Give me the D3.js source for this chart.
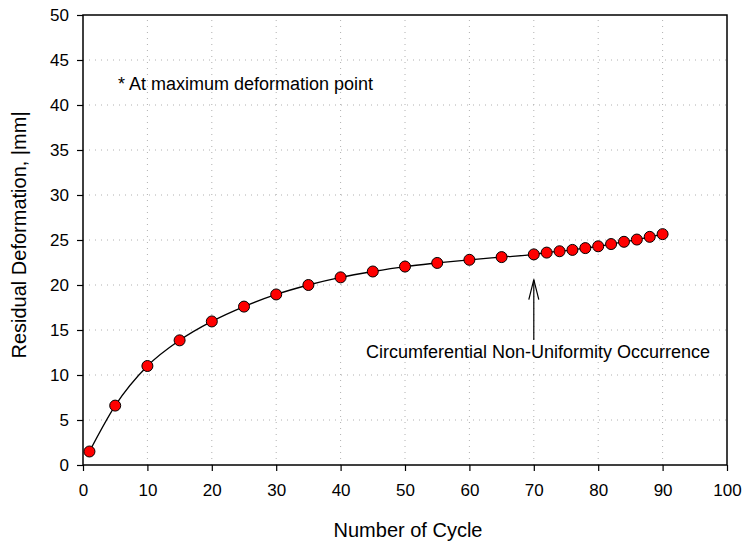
<!DOCTYPE html>
<html>
<head>
<meta charset="utf-8">
<script src="https://cdn.jsdelivr.net/npm/d3@7"></script>
<style>
  body { margin: 0; background: #fff; }
  text { font-family: "Liberation Sans", Arial, sans-serif; fill: #000; }
</style>
</head>
<body>
<script>
// data
var cycles = [1, 5, 10, 15, 20, 25, 30, 35, 40, 45, 50, 55, 60, 65,
              70, 72, 74, 76, 78, 80, 82, 84, 86, 88, 90];
var deformation = [1.5, 6.6, 11.0, 13.85, 15.95, 17.6, 18.95, 20.0, 20.85, 21.5, 22.05, 22.45, 22.8, 23.1,
                   23.4, 23.6, 23.75, 23.9, 24.1, 24.3, 24.55, 24.8, 25.05, 25.35, 25.65];
var xTicks = [0, 10, 20, 30, 40, 50, 60, 70, 80, 90, 100];
var yTicks = [0, 5, 10, 15, 20, 25, 30, 35, 40, 45, 50];

var width = 746, height = 546;
var margin = {left: 83, right: 19, top: 15, bottom: 81};

var svg = d3.select("body").append("svg")
    .attr("width", width)
    .attr("height", height);

var x = d3.scaleLinear().domain([0, 100]).range([margin.left, width - margin.right]);
var y = d3.scaleLinear().domain([0, 50]).range([height - margin.bottom, margin.top]);

// dotted grid
svg.append("g").selectAll("line.gx")
    .data(xTicks.slice(1, -1))
    .enter().append("line")
    .attr("x1", function (d) { return x(d); })
    .attr("x2", function (d) { return x(d); })
    .attr("y1", y(0)).attr("y2", y(50))
    .attr("stroke", "#b0b0b0").attr("stroke-width", 1)
    .attr("stroke-dasharray", "1,5");

svg.append("g").selectAll("line.gy")
    .data(yTicks.slice(1, -1))
    .enter().append("line")
    .attr("y1", function (d) { return y(d); })
    .attr("y2", function (d) { return y(d); })
    .attr("x1", x(0)).attr("x2", x(100))
    .attr("stroke", "#b0b0b0").attr("stroke-width", 1)
    .attr("stroke-dasharray", "1,5");

// axes
var xAxis = svg.append("g")
    .attr("transform", "translate(0," + y(0) + ")")
    .call(d3.axisBottom(x).tickValues(xTicks).tickSize(6).tickPadding(13));
var yAxis = svg.append("g")
    .attr("transform", "translate(" + x(0) + ",0)")
    .call(d3.axisLeft(y).tickValues(yTicks).tickSize(6).tickPadding(8));

[xAxis, yAxis].forEach(function (a) {
    a.select(".domain").remove();
    a.selectAll(".tick line").attr("stroke", "#000").attr("stroke-width", 1.2);
    a.selectAll("text").style("font-size", "17px").style("font-family", "Liberation Sans, Arial, sans-serif");
});

// frame
svg.append("rect")
    .attr("x", x(0)).attr("y", y(50))
    .attr("width", x(100) - x(0)).attr("height", y(0) - y(50))
    .attr("fill", "none").attr("stroke", "#000").attr("stroke-width", 1.5);

// curve
var pts = cycles.map(function (c, i) { return [c, deformation[i]]; });
var line = d3.line()
    .x(function (d) { return x(d[0]); })
    .y(function (d) { return y(d[1]); })
    .curve(d3.curveMonotoneX);

svg.append("path")
    .datum(pts)
    .attr("d", line)
    .attr("fill", "none")
    .attr("stroke", "#000")
    .attr("stroke-width", 1.3);

svg.append("g").selectAll("circle")
    .data(pts)
    .enter().append("circle")
    .attr("cx", function (d) { return x(d[0]); })
    .attr("cy", function (d) { return y(d[1]); })
    .attr("r", 5.5)
    .attr("fill", "#ff0000")
    .attr("stroke", "#000")
    .attr("stroke-width", 1);

// arrow annotation
var ax = x(70);
svg.append("line")
    .attr("x1", ax).attr("x2", ax)
    .attr("y1", y(13.9)).attr("y2", y(20.6))
    .attr("stroke", "#000").attr("stroke-width", 1.2);
svg.append("path")
    .attr("d", "M" + (ax - 5) + "," + (y(20.6) + 20) + "L" + ax + "," + y(20.6) + "L" + (ax + 5) + "," + (y(20.6) + 20))
    .attr("fill", "none").attr("stroke", "#000").attr("stroke-width", 1.2);

svg.append("text")
    .attr("x", 710).attr("y", 358)
    .attr("text-anchor", "end")
    .style("font-size", "18px")
    .text("Circumferential Non-Uniformity Occurrence");

svg.append("text")
    .attr("x", 118).attr("y", 90)
    .style("font-size", "18px")
    .text("* At maximum deformation point");

// axis titles
svg.append("text")
    .attr("x", 408).attr("y", 537)
    .attr("text-anchor", "middle")
    .style("font-size", "20px")
    .text("Number of Cycle");

svg.append("text")
    .attr("transform", "translate(26,235) rotate(-90)")
    .attr("text-anchor", "middle")
    .style("font-size", "20px")
    .text("Residual Deformation, |mm|");
</script>
</body>
</html>
